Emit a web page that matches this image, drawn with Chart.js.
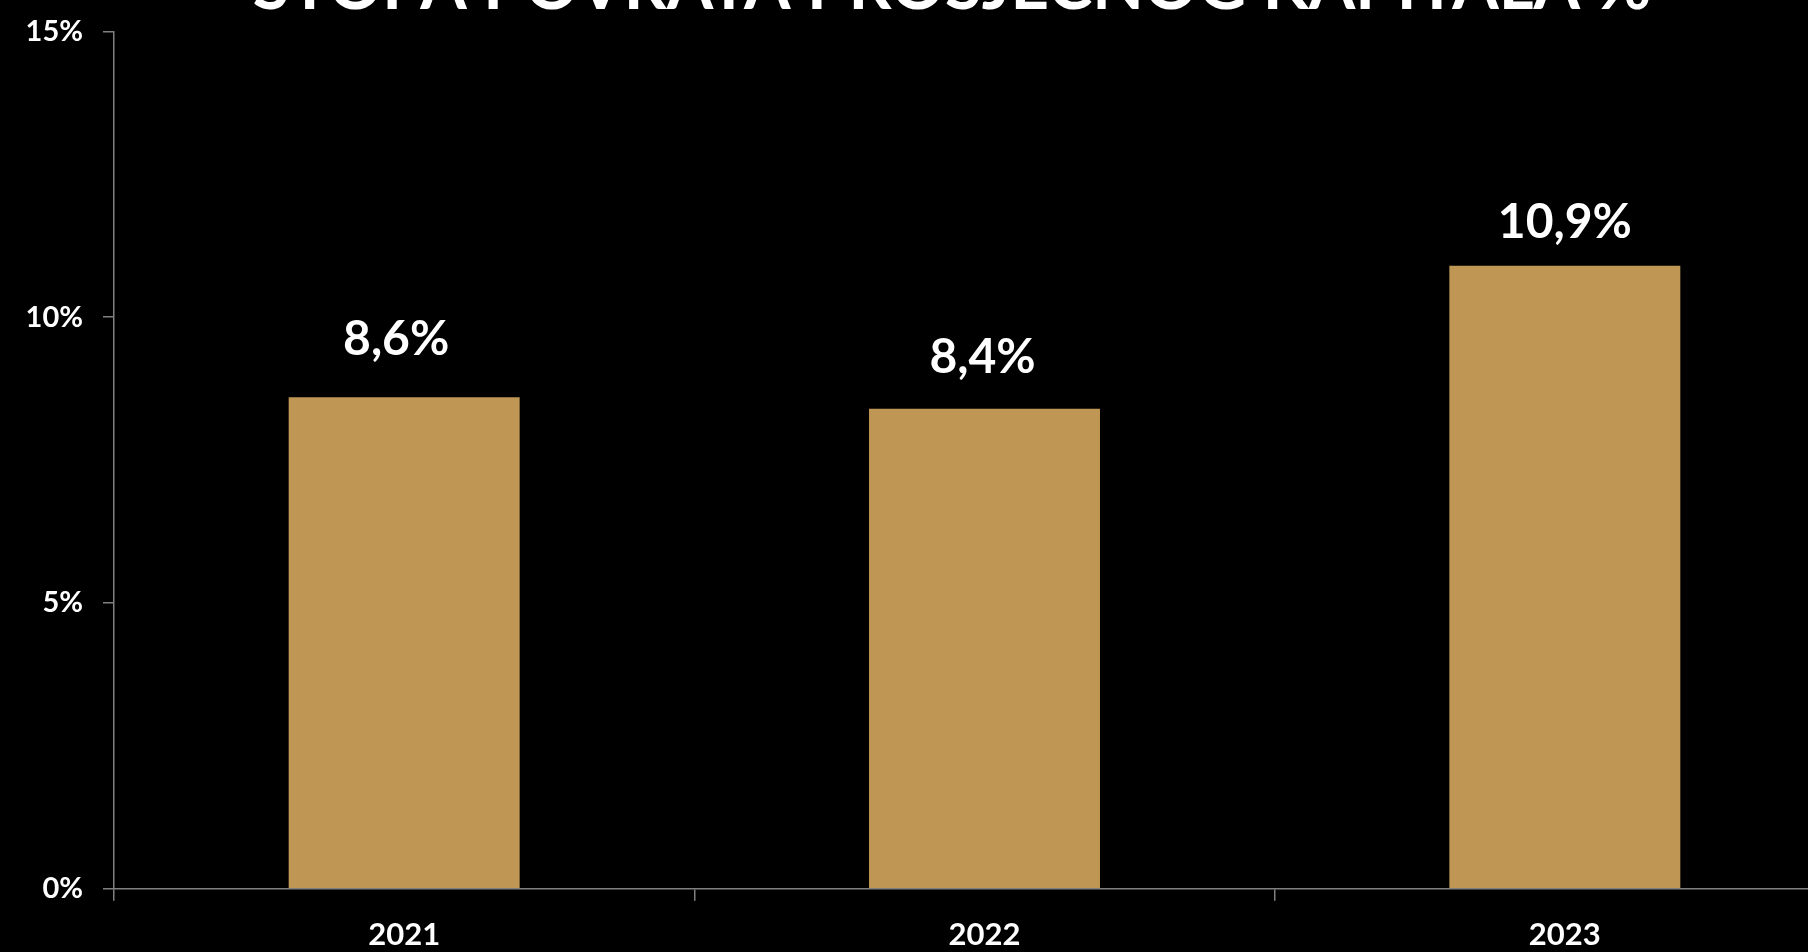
<!DOCTYPE html>
<html>
<head>
<meta charset="utf-8">
<script src="https://cdn.jsdelivr.net/npm/chart.js@4.4.1/dist/chart.umd.min.js"></script>
<style>
  html, body { margin: 0; padding: 0; background: #000; overflow: hidden; width: 1808px; height: 952px; }
  #wrap { position: absolute; left: 0; top: -60px; width: 1904px; height: 1030px; }
</style>
</head>
<body>
<div id="wrap"><canvas id="c"></canvas></div>
<script>
const titleText = 'STOPA POVRATA PROSJEČNOG KAPITALA %';
const categories = ['2021', '2022', '2023'];
const values = [8.6, 8.4, 10.9];
const yTicks = [0, 5, 10, 15];

const barColor = '#C09655';
const axisColor = '#808080';
const fontFamily = 'Lato, "Open Sans", sans-serif';
// label placement style (gap above bar top, horizontal nudge), as in the source slide
const labelGap = [42, 36, 28];
const labelNudge = [-8, -2, 0];

const fmt = v => v.toFixed(1).replace('.', ',') + '%';

const valueLabels = {
  id: 'valueLabels',
  afterDatasetsDraw(chart) {
    const ctx = chart.ctx;
    const meta = chart.getDatasetMeta(0);
    ctx.save();
    ctx.fillStyle = '#ffffff';
    ctx.font = 'bold 48px ' + fontFamily;
    ctx.textAlign = 'center';
    ctx.textBaseline = 'alphabetic';
    meta.data.forEach((el, i) => {
      ctx.fillText(fmt(values[i]), el.x + labelNudge[i], el.y - labelGap[i]);
    });
    ctx.restore();
  }
};

new Chart(document.getElementById('c'), {
  type: 'bar',
  data: {
    labels: categories,
    datasets: [{
      data: values,
      backgroundColor: barColor,
      borderWidth: 0,
      barPercentage: 0.398,
      categoryPercentage: 1.0
    }]
  },
  options: {
    responsive: true,
    maintainAspectRatio: false,
    animation: false,
    layout: { padding: { left: 0, right: 0, top: 0, bottom: 0 } },
    plugins: {
      legend: { display: false },
      tooltip: { enabled: false },
      title: {
        display: true,
        text: titleText,
        color: '#ffffff',
        font: { family: fontFamily, size: 67, weight: 'bold', lineHeight: 1.2 },
        padding: { top: 7, bottom: 4 }
      }
    },
    scales: {
      x: {
        grid: {
          display: true,
          offset: true,
          drawOnChartArea: false,
          drawTicks: true,
          tickLength: 12,
          color: axisColor,
          lineWidth: 1.5
        },
        border: { display: true, color: axisColor, width: 1.5 },
        ticks: {
          color: '#ffffff',
          padding: 16,
          font: { family: fontFamily, size: 31, weight: 'bold', lineHeight: 1.2 }
        }
      },
      y: {
        min: 0,
        max: 15,
        afterBuildTicks(scale) { scale.ticks = yTicks.map(v => ({ value: v })); },
        afterFit(scale) { scale.width = 114; },
        grid: {
          display: true,
          drawOnChartArea: false,
          drawTicks: true,
          tickLength: 11,
          color: axisColor,
          lineWidth: 1.5
        },
        border: { display: true, color: axisColor, width: 1.5 },
        ticks: {
          color: '#ffffff',
          padding: 20,
          callback: v => v + '%',
          font: { family: fontFamily, size: 29, weight: 'bold' }
        }
      },
      yRightSpacer: {
        position: 'right',
        display: true,
        min: 0,
        max: 15,
        afterFit(scale) { scale.width = 49; },
        grid: { display: false },
        border: { display: false },
        ticks: { display: false }
      }
    }
  },
  plugins: [valueLabels]
});
</script>
</body>
</html>
